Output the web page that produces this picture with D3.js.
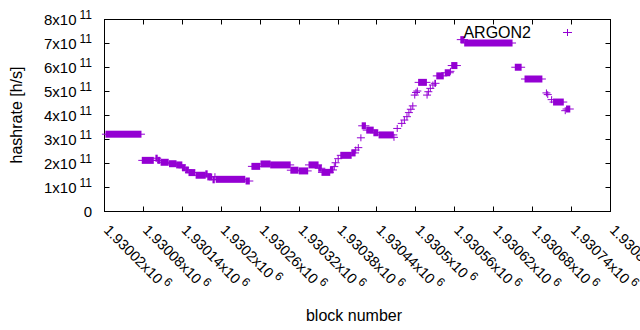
<!DOCTYPE html>
<html>
<head>
<meta charset="utf-8">
<script src="https://cdn.jsdelivr.net/npm/d3@7"></script>
<style>
  body { margin: 0; background: #fff; }
  text { font-family: "Liberation Sans", Arial, sans-serif; fill: #000; }
</style>
</head>
<body>
<div id="chart"></div>
<script>
// runs of blocks with the same hashrate (first block, last block, h/s)
const runStart = [1930023, 1930079, 1930100, 1930103, 1930108, 1930121, 1930132, 1930141, 1930146, 1930151,
    1930162, 1930177, 1930180, 1930188, 1930191, 1930193, 1930239, 1930248, 1930262, 1930277,
    1930308, 1930321, 1930336, 1930351, 1930356, 1930369, 1930375, 1930377, 1930381, 1930385,
    1930402, 1930408, 1930412, 1930416, 1930418, 1930425, 1930436, 1930444, 1930467, 1930472,
    1930479, 1930483, 1930487, 1930490, 1930493, 1930496, 1930499, 1930501, 1930503, 1930505,
    1930518, 1930520, 1930523, 1930527, 1930530, 1930533, 1930546, 1930554, 1930556, 1930570,
    1930576, 1930654, 1930669, 1930702, 1930704, 1930710, 1930713, 1930731, 1930733];
const runEnd = [1930077, 1930096, 1930102, 1930106, 1930119, 1930131, 1930140, 1930145, 1930150, 1930160,
    1930176, 1930179, 1930186, 1930190, 1930191, 1930237, 1930244, 1930260, 1930276, 1930307,
    1930319, 1930334, 1930350, 1930355, 1930368, 1930373, 1930375, 1930377, 1930381, 1930401,
    1930407, 1930408, 1930412, 1930416, 1930423, 1930435, 1930442, 1930466, 1930467, 1930472,
    1930479, 1930483, 1930487, 1930490, 1930493, 1930496, 1930499, 1930501, 1930503, 1930517,
    1930518, 1930520, 1930523, 1930527, 1930531, 1930543, 1930553, 1930554, 1930564, 1930575,
    1930649, 1930663, 1930695, 1930702, 1930704, 1930710, 1930728, 1930731, 1930738];
const runRate = [3.20e11, 2.11e11, 2.20e11, 2.11e11, 2.03e11, 1.97e11, 1.92e11, 1.80e11, 1.71e11, 1.60e11,
    1.49e11, 1.55e11, 1.42e11, 1.30e11, 1.43e11, 1.32e11, 1.25e11, 1.86e11, 1.96e11, 1.92e11,
    1.70e11, 1.67e11, 1.92e11, 1.78e11, 1.61e11, 1.71e11, 1.85e11, 2.01e11, 2.18e11, 2.32e11,
    2.42e11, 2.54e11, 2.64e11, 3.05e11, 3.55e11, 3.37e11, 3.26e11, 3.17e11, 3.07e11, 3.44e11,
    3.65e11, 3.79e11, 3.93e11, 4.10e11, 4.24e11, 4.38e11, 4.83e11, 4.94e11, 5.00e11, 5.36e11,
    4.83e11, 4.97e11, 5.11e11, 5.25e11, 5.32e11, 5.63e11, 5.76e11, 5.82e11, 6.06e11, 7.14e11,
    7.00e11, 5.99e11, 5.50e11, 4.92e11, 4.85e11, 4.64e11, 4.54e11, 4.18e11, 4.25e11];

// axis ticks
const xTicks = [1930020, 1930080, 1930140, 1930200, 1930260, 1930320, 1930380, 1930440,
    1930500, 1930560, 1930620, 1930680, 1930740, 1930800];
const xTickLabels = ["1.93002", "1.93008", "1.93014", "1.9302", "1.93026", "1.93032", "1.93038",
    "1.93044", "1.9305", "1.93056", "1.93062", "1.93068", "1.93074", "1.9308"];
const xTickExp = "6";
const yTicks = [0, 1e11, 2e11, 3e11, 4e11, 5e11, 6e11, 7e11, 8e11];
const yTickLabels = ["0", "1", "2", "3", "4", "5", "6", "7", "8"];
const yTickExp = "11";
const seriesName = "ARGON2";

const width = 640, height = 330;
const plotLeft = 104, plotRight = 610, plotTop = 19, plotBottom = 211;
const color = "#9400d3";

const svg = d3.select("#chart")
    .append("svg")
    .attr("width", width)
    .attr("height", height);

const x = d3.scaleLinear().domain([1930020, 1930800]).range([plotLeft, plotRight]);
const y = d3.scaleLinear().domain([0, 8e11]).range([plotBottom, plotTop]);

// plot border
svg.append("rect")
    .attr("x", plotLeft + 0.5).attr("y", plotTop + 0.5)
    .attr("width", plotRight - plotLeft).attr("height", plotBottom - plotTop)
    .attr("fill", "none").attr("stroke", "#000").attr("stroke-width", 1);

// ticks on all four sides (pointing inwards)
const tk = 5;
const g = svg.append("g").attr("stroke", "#000").attr("stroke-width", 1);
xTicks.forEach(function (t) {
    const px = Math.round(x(t)) + 0.5;
    g.append("line").attr("x1", px).attr("x2", px).attr("y1", plotBottom + 0.5).attr("y2", plotBottom + 0.5 - tk);
    g.append("line").attr("x1", px).attr("x2", px).attr("y1", plotTop + 0.5).attr("y2", plotTop + 0.5 + tk);
});
yTicks.forEach(function (t) {
    const py = Math.round(y(t)) + 0.5;
    g.append("line").attr("x1", plotLeft + 0.5).attr("x2", plotLeft + 0.5 + tk).attr("y1", py).attr("y2", py);
    g.append("line").attr("x1", plotRight + 0.5).attr("x2", plotRight + 0.5 - tk).attr("y1", py).attr("y2", py);
});

// y tick labels, like 3x10^11
yTicks.forEach(function (t, i) {
    const txt = svg.append("text")
        .attr("x", 92)
        .attr("y", y(t) + 5.5)
        .attr("text-anchor", "end")
        .style("font-size", "15px");
    if (t === 0) {
        txt.text(yTickLabels[i]);
    } else {
        txt.append("tspan").text(yTickLabels[i] + "x10");
        txt.append("tspan").attr("dx", 3).attr("dy", -6).style("font-size", "12px").text(yTickExp);
    }
});

// x tick labels, rotated down to the right
xTicks.forEach(function (t, i) {
    const txt = svg.append("text")
        .attr("transform", "translate(" + (x(t) - 1) + "," + 231 + ") rotate(45)")
        .style("font-size", "14.5px");
    txt.append("tspan").text(xTickLabels[i] + "x10");
    txt.append("tspan").attr("dx", 3).attr("dy", -6).style("font-size", "12px").text(xTickExp);
});

// axis titles
svg.append("text")
    .attr("transform", "translate(22,115) rotate(-90)")
    .attr("text-anchor", "middle")
    .style("font-size", "16px")
    .text("hashrate [h/s]");

svg.append("text")
    .attr("x", 354).attr("y", 321)
    .attr("text-anchor", "middle")
    .style("font-size", "16px")
    .text("block number");

// the points: each run of "+" marks drawn as one glyph
const runs = runStart.map(function (s, i) {
    return { start: s, end: runEnd[i], rate: runRate[i] };
});

const marks = svg.append("g");
marks.selectAll("line")
    .data(runs)
    .join("line")
    .attr("x1", d => x(d.start) - 4)
    .attr("x2", d => x(d.end) + 4)
    .attr("y1", d => y(d.rate))
    .attr("y2", d => y(d.rate))
    .attr("stroke", color)
    .attr("stroke-width", 1);
marks.selectAll("rect")
    .data(runs)
    .join("rect")
    .attr("x", d => x(d.start) - 0.5)
    .attr("width", d => x(d.end) - x(d.start) + 1)
    .attr("y", d => y(d.rate) - 3.5)
    .attr("height", 7)
    .attr("fill", color);

// legend
svg.append("text")
    .attr("x", 531).attr("y", 37.5)
    .attr("text-anchor", "end")
    .style("font-size", "16px")
    .text(seriesName);
svg.append("path")
    .attr("d", "M563,32.5h9M567.5,29v7")
    .attr("stroke", color)
    .attr("stroke-width", 1)
    .attr("fill", "none");
</script>
</body>
</html>
